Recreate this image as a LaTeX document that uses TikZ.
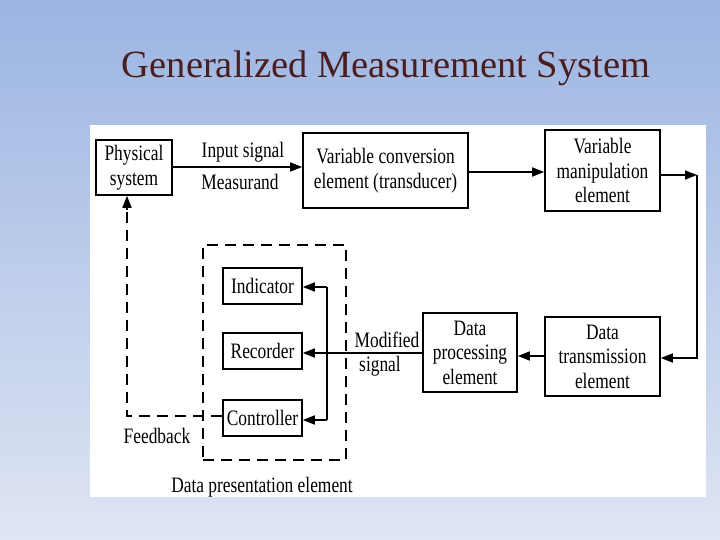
\documentclass[tikz,border=0pt]{standalone}
\usepackage{fontspec}
\setmainfont{Liberation Serif}
\newfontfamily\figfont{Liberation Serif}[FakeStretch=0.79]
\usetikzlibrary{arrows.meta, positioning, calc}
\definecolor{bgtop}{RGB}{155,181,226}
\definecolor{bgbot}{RGB}{223,229,243}
\definecolor{titlered}{RGB}{74,30,30}

\begin{document}
\begin{tikzpicture}[x=1pt, y=-1pt,
      blk/.style={rectangle, draw=black, line width=1.6pt, align=center,
        inner sep=2pt, font=\figfont\fontsize{22}{24.5}\selectfont},
      lbl/.style={align=center, inner sep=0pt, font=\figfont\fontsize{22}{24.5}\selectfont},
      flow/.style={line width=1.6pt, -{Triangle[length=12pt,width=9pt]}},
      wire/.style={line width=1.6pt},
      fbk/.style={line width=1.5pt, dash pattern=on 11pt off 7pt}
    ]
      \useasboundingbox (0,0) rectangle (720,540);
      \shade[top color=bgtop, bottom color=bgbot] (0,0) rectangle (720,540);
      \fill[white] (90,125) rectangle (706,497);

      \node[anchor=base, text=titlered, inner sep=0pt,
        font=\fontsize{38.5}{44}\selectfont] (title) at (386,78)
        {Generalized Measurement System};

      % top row
      \node[blk, minimum width=76pt, minimum height=55pt] (phys) at (134,167.5)
        {Physical\\system};
      \node[blk, minimum width=165pt, minimum height=75pt] (conv) at (385.5,170.5)
        {Variable conversion\\element (transducer)};
      \node[blk, minimum width=115pt, minimum height=81pt] (manip) at (602.5,170.5)
        {Variable\\manipulation\\element};

      % bottom row
      \node[blk, minimum width=115pt, minimum height=79pt] (trans) at (602.5,356.5)
        {Data\\transmission\\element};
      \node[blk, minimum width=94pt, minimum height=79pt] (proc) at (470,352.5)
        {Data\\processing\\element};

      % presentation
      \node[blk, minimum width=79pt, minimum height=36pt] (ind) at (262.5,286) {Indicator};
      \node[blk, minimum width=79pt, minimum height=36pt] (rec) at (262.5,351) {Recorder};
      \node[blk, minimum width=79pt, minimum height=36pt] (ctrl) at (262.5,418) {Controller};
      \node[rectangle, fbk, draw=black, minimum width=143pt, minimum height=215pt]
        (pres) at (274.5,352.5) {};

      \coordinate (turnA) at (697,175);
      \coordinate (brTop) at (327,287);
      \coordinate (brBot) at (327,420);
      \coordinate (back) at (127,416);

      \draw[flow] (phys.east |- 0,167) -- (conv.west |- 0,167);
      \draw[flow] (conv.east |- 0,172) -- (manip.west |- 0,172);
      \draw[flow] (manip.east |- turnA) -- (turnA);
      \draw[flow] (turnA) |- (trans.east |- 0,358);
      \draw[flow] (trans.west |- 0,356) -- (proc.east |- 0,356);
      \draw[flow] (proc.west |- 0,353) -- (rec.east |- 0,353);
      \draw[wire] (brTop) -- (brBot);
      \draw[flow] (brTop) -- (ind.east |- brTop);
      \draw[flow] (brBot) -- (ctrl.east |- brBot);
      \draw[fbk] (ctrl.west |- back) -- (back) -- ($(phys.south -| back)+(0,12)$);
      \draw[flow] ($(phys.south -| back)+(0,14)$) -- (phys.south -| back);

      % labels
      \node[lbl] (inp) at (243,152) {Input signal};
      \node[lbl] (meas) at (240,182) {Measurand};
      \node[lbl] (modi) at (387,340) {Modified};
      \node[lbl] (sig) at (380,366) {signal};
      \node[lbl] (feed) at (157,436) {Feedback};
      \node[lbl] (dpe) at (262,487) {Data presentation element};
    \end{tikzpicture}
\end{document}
